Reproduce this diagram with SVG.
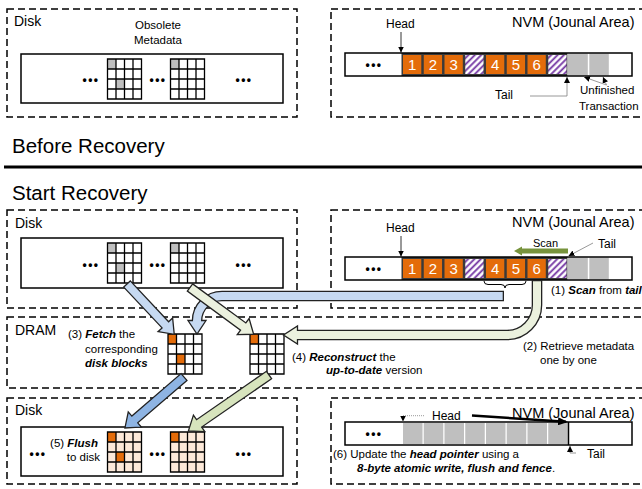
<svg xmlns="http://www.w3.org/2000/svg" width="642" height="489" viewBox="0 0 642 489">
<style>
text{font-family:"Liberation Sans",Arial,sans-serif;fill:#000}
.box{fill:none;stroke:#000;stroke-width:1.5;stroke-dasharray:7 4}
.inner{fill:#fff;stroke:#000;stroke-width:1.5}
.bar{fill:none;stroke:#000;stroke-width:1.5}
.lbl{font-size:14px}
.nvm{font-size:14.5px}
.sm{font-size:11.5px}
.hd{font-size:20.5px}
.bi{font-weight:bold;font-style:italic}
.dots{font-size:12px;font-weight:bold;letter-spacing:1.5px;text-anchor:middle}
.num{font-size:15px;fill:#fff;text-anchor:middle}
.or{fill:#E46C0A}
.gr{fill:#BFBFBF}
.pe{fill:#FDE9D9}
.ht{fill:url(#hatch)}
.dk{fill:#3A3A3A}
.ptr{fill:none;stroke:#000;stroke-width:0.8}
.ptrg{fill:none;stroke:#7F7F7F;stroke-width:0.8}
.edge{stroke:#222;stroke-width:1.3;stroke-linejoin:miter}
</style>
<defs>
<pattern id="hatch" patternUnits="userSpaceOnUse" width="4.5" height="4.5" patternTransform="rotate(45)">
<rect width="4.5" height="4.5" fill="#fff"/>
<line x1="1.2" y1="0" x2="1.2" y2="4.5" stroke="#7030A0" stroke-width="1.8"/>
</pattern>
<path id="gl" d="M0,0h34v40h-34z M8.5,0v40 M17,0v40 M25.5,0v40 M0,10h34 M0,20h34 M0,30h34" fill="none" stroke="#000" stroke-width="1.3"/>
<marker id="ah" markerUnits="userSpaceOnUse" markerWidth="6" markerHeight="6" viewBox="0 0 10 10" refX="10" refY="5" orient="auto">
<path d="M0,0 L10,5 L0,10 Z" fill="#000"/>
</marker>
<marker id="ahb" markerUnits="userSpaceOnUse" markerWidth="10" markerHeight="8" viewBox="0 0 10 8" refX="8" refY="4" orient="auto">
<path d="M0,0 L10,4 L0,8 Z" fill="#000"/>
</marker>
</defs>

<!-- ===== Before Recovery ===== -->
<g id="disk-before">
<rect class="box" x="7" y="9" width="290" height="108"/>
<text class="lbl" x="14" y="26">Disk</text>
<text class="sm" x="158" y="29" text-anchor="middle">Obsolete</text>
<text class="sm" x="158" y="44" text-anchor="middle">Metadata</text>
<rect class="inner" x="21" y="54" width="262" height="49"/>
<rect x="107.5" y="59" width="34" height="40" fill="#fff"/>
<rect class="gr" x="107.5" y="59" width="8.5" height="10"/>
<rect class="gr" x="116" y="79" width="8.5" height="10"/>
<use href="#gl" x="107.5" y="59"/>
<rect x="170.5" y="59" width="34" height="40" fill="#fff"/>
<rect class="gr" x="170.5" y="59" width="8.5" height="10"/>
<use href="#gl" x="170.5" y="59"/>
<text class="dots" x="91" y="84">•••</text>
<text class="dots" x="158" y="84">•••</text>
<text class="dots" x="244" y="84">•••</text>
</g>

<g id="nvm-before">
<rect class="box" x="331" y="9" width="315" height="108"/>
<text class="nvm" x="512" y="27">NVM (Jounal Area)</text>
<text x="386" y="28" font-size="12">Head</text>
<rect x="345" y="53" width="287" height="23" fill="#fff"/>
<rect class="dk" x="401.5" y="53" width="166" height="23"/>
<rect class="or" x="403" y="55" width="18.3" height="19"/>
<rect class="or" x="423.75" y="55" width="18.3" height="19"/>
<rect class="or" x="444.5" y="55" width="18.3" height="19"/>
<rect class="ht" x="465.25" y="55" width="18.3" height="19"/>
<rect class="or" x="486" y="55" width="18.3" height="19"/>
<rect class="or" x="506.75" y="55" width="18.3" height="19"/>
<rect class="or" x="527.5" y="55" width="18.3" height="19"/>
<rect class="ht" x="548.25" y="55" width="18.3" height="19"/>
<text class="num" x="412.2" y="69.5">1</text>
<text class="num" x="432.9" y="69.5">2</text>
<text class="num" x="453.7" y="69.5">3</text>
<text class="num" x="495.2" y="69.5">4</text>
<text class="num" x="515.9" y="69.5">5</text>
<text class="num" x="536.7" y="69.5">6</text>
<rect class="gr" x="567.5" y="53.5" width="20.3" height="22"/>
<rect class="gr" x="589.3" y="53.5" width="19.5" height="22"/>
<rect class="bar" x="345" y="53" width="287" height="23"/>
<text class="dots" x="374" y="68.5">•••</text>
<text x="495" y="99" font-size="12">Tail</text>
<text class="sm" x="580" y="94">Unfinished</text>
<text class="sm" x="579" y="110">Transaction</text>
</g>

<!-- ===== Headings ===== -->
<g id="headings">
<text class="hd" x="12" y="153">Before Recovery</text>
<line x1="4" y1="167" x2="642" y2="167" stroke="#000" stroke-width="3"/>
<text class="hd" x="12" y="200">Start Recovery</text>
</g>

<!-- ===== Start Recovery ===== -->
<g id="disk-recovery">
<rect class="box" x="7" y="210" width="290" height="98"/>
<text class="lbl" x="15" y="228">Disk</text>
<rect class="inner" x="21" y="238" width="262" height="50"/>
<rect x="107.5" y="243" width="34" height="40" fill="#fff"/>
<rect class="gr" x="107.5" y="243" width="8.5" height="10"/>
<rect class="gr" x="116" y="263" width="8.5" height="10"/>
<use href="#gl" x="107.5" y="243"/>
<rect x="170.5" y="243" width="34" height="40" fill="#fff"/>
<rect class="gr" x="170.5" y="243" width="8.5" height="10"/>
<use href="#gl" x="170.5" y="243"/>
<text class="dots" x="91" y="269">•••</text>
<text class="dots" x="158" y="269">•••</text>
<text class="dots" x="244" y="269">•••</text>
</g>

<g id="nvm-recovery">
<rect class="box" x="331" y="210" width="315" height="98"/>
<text class="nvm" x="512" y="227">NVM (Jounal Area)</text>
<text x="386" y="232" font-size="12">Head</text>
<rect x="345" y="257" width="287" height="23" fill="#fff"/>
<rect class="dk" x="401.5" y="257" width="166" height="23"/>
<rect class="or" x="403" y="259" width="18.3" height="19"/>
<rect class="or" x="423.75" y="259" width="18.3" height="19"/>
<rect class="or" x="444.5" y="259" width="18.3" height="19"/>
<rect class="ht" x="465.25" y="259" width="18.3" height="19"/>
<rect class="or" x="486" y="259" width="18.3" height="19"/>
<rect class="or" x="506.75" y="259" width="18.3" height="19"/>
<rect class="or" x="527.5" y="259" width="18.3" height="19"/>
<rect class="ht" x="548.25" y="259" width="18.3" height="19"/>
<text class="num" x="412.2" y="273.5">1</text>
<text class="num" x="432.9" y="273.5">2</text>
<text class="num" x="453.7" y="273.5">3</text>
<text class="num" x="495.2" y="273.5">4</text>
<text class="num" x="515.9" y="273.5">5</text>
<text class="num" x="536.7" y="273.5">6</text>
<rect class="gr" x="567.5" y="257.5" width="20.3" height="22"/>
<rect class="gr" x="589.3" y="257.5" width="19.5" height="22"/>
<rect class="bar" x="345" y="257" width="287" height="23"/>
<text class="dots" x="374" y="272.5">•••</text>
<text x="533" y="247" font-size="11">Scan</text>
<path d="M568,248.5 H522 V246.5 L514,251 L522,255.5 V253.5 H568 Z" fill="#77933C"/>
<text x="598" y="248" font-size="12">Tail</text>
<path d="M484,281 q0,3.5 4,3.5 h13 q4,0 4,3.5 q0,-3.5 4,-3.5 h13 q4,0 4,-3.5" fill="none" stroke="#000" stroke-width="1"/>
<text class="sm" x="551" y="294">(1) <tspan class="bi">Scan</tspan> from <tspan class="bi">tail</tspan></text>
</g>

<g id="dram">
<rect class="box" x="7" y="317" width="640" height="71"/>
<text class="lbl" x="15" y="335">DRAM</text>
<text class="sm" x="68" y="338">(3) <tspan class="bi">Fetch</tspan> the</text>
<text class="sm" x="85" y="353">corresponding</text>
<text class="sm bi" x="85" y="367">disk blocks</text>
<rect x="168" y="334" width="34" height="40" fill="#fff"/>
<rect class="or" x="168" y="334" width="8.5" height="10"/>
<rect class="or" x="176.5" y="354" width="8.5" height="10"/>
<use href="#gl" x="168" y="334"/>
<rect x="250" y="334" width="34" height="40" fill="#fff"/>
<rect class="or" x="250" y="334" width="8.5" height="10"/>
<use href="#gl" x="250" y="334"/>
<text class="sm" x="292" y="361">(4) <tspan class="bi">Reconstruct</tspan> the</text>
<text class="sm" x="326" y="374"><tspan class="bi">up-to-date</tspan> version</text>
<text class="sm" x="523" y="350">(2) Retrieve metadata</text>
<text class="sm" x="540" y="364">one by one</text>
</g>

<g id="disk-after">
<rect class="box" x="7" y="398" width="290" height="86"/>
<text class="lbl" x="15" y="415">Disk</text>
<rect class="inner" x="21" y="427" width="262" height="49"/>
<text class="sm" x="98" y="447" text-anchor="end">(5) <tspan class="bi">Flush</tspan></text>
<text class="sm" x="100" y="461" text-anchor="end">to disk</text>
<rect class="pe" x="107.5" y="432" width="34" height="40"/>
<rect class="or" x="107.5" y="432" width="8.5" height="10"/>
<rect class="or" x="116" y="452" width="8.5" height="10"/>
<use href="#gl" x="107.5" y="432"/>
<rect class="pe" x="170.5" y="432" width="34" height="40"/>
<rect class="or" x="170.5" y="432" width="8.5" height="10"/>
<use href="#gl" x="170.5" y="432"/>
<text class="dots" x="38" y="457.5">•••</text>
<text class="dots" x="158" y="457.5">•••</text>
<text class="dots" x="244" y="457.5">•••</text>
</g>

<g id="nvm-after">
<rect class="box" x="331" y="398" width="315" height="86"/>
<text class="nvm" x="512" y="418">NVM (Jounal Area)</text>
<text x="432" y="420" font-size="12">Head</text>
<rect x="345" y="422" width="287" height="23" fill="#fff"/>
<rect class="gr" x="403" y="423" width="19.5" height="21"/>
<rect class="gr" x="423.75" y="423" width="19.5" height="21"/>
<rect class="gr" x="444.5" y="423" width="19.5" height="21"/>
<rect class="gr" x="465.25" y="423" width="19.5" height="21"/>
<rect class="gr" x="486" y="423" width="19.5" height="21"/>
<rect class="gr" x="506.75" y="423" width="19.5" height="21"/>
<rect class="gr" x="527.5" y="423" width="19.5" height="21"/>
<rect class="gr" x="548.25" y="423" width="19.5" height="21"/>
<line x1="568.5" y1="422" x2="568.5" y2="445" stroke="#000" stroke-width="1.5"/>
<rect class="bar" x="345" y="422" width="287" height="23"/>
<text class="dots" x="374" y="437.5">•••</text>
<text x="587" y="458" font-size="12">Tail</text>
<text class="sm" x="333" y="458">(6) Update the <tspan class="bi">head pointer</tspan> using a</text>
<text class="sm" x="357" y="472"><tspan class="bi">8-byte atomic write, flush and fence</tspan>.</text>
</g>

<!-- ===== Connectors ===== -->
<g id="connectors">
<!-- pointers -->
<line class="ptr" x1="401" y1="32" x2="401" y2="52.5" marker-end="url(#ah)"/>
<polyline class="ptrg" points="530,96 567,96 567,77" marker-end="url(#ah)"/>
<line class="ptrg" x1="606.5" y1="85" x2="584" y2="77" marker-end="url(#ah)"/>
<line class="ptrg" x1="606.5" y1="85" x2="603" y2="77" marker-end="url(#ah)"/>
<line class="ptr" x1="401" y1="236" x2="401" y2="256.5" marker-end="url(#ah)"/>
<line class="ptrg" x1="593" y1="243" x2="568.5" y2="256" marker-end="url(#ah)"/>
<polyline points="424,415.7 403,415.7 403,421.5" fill="none" stroke="#7F7F7F" stroke-width="0.8" stroke-dasharray="1 1" marker-end="url(#ah)"/>
<line x1="472" y1="415.5" x2="566" y2="421.8" stroke="#000" stroke-width="2.5" marker-end="url(#ahb)"/>
<polyline class="ptrg" points="576,453 570,453 570,446" marker-end="url(#ah)"/>

<!-- blue curved: scanned metadata to DRAM grid 1 -->
<path d="M504,296 H222 A25,25 0 0 0 197,321 V322" fill="none" stroke="#222" stroke-width="10.6"/>
<path d="M188,320.5 H206 L197,334 Z" fill="#C6D9F1" class="edge"/>
<path d="M502.7,296 H222 A25,25 0 0 0 197,321 V323" fill="none" stroke="#C6D9F1" stroke-width="8"/>

<!-- green curved: retrieve to DRAM grid 2 -->
<path d="M537,280 V305 A30,30 0 0 1 507,335 H297" fill="none" stroke="#222" stroke-width="10.6"/>
<path d="M297.5,326 V344 L283.5,335 Z" fill="#EBF1DE" class="edge"/>
<path d="M537,281.3 V305 A30,30 0 0 1 507,335 H295.5" fill="none" stroke="#EBF1DE" stroke-width="8"/>

<!-- fetch (blue) -->
<path transform="translate(127,284) rotate(46.8)" d="M0,-4.5 H56 V-10 L69,0 L56,10 V4.5 H0 Z" fill="#C6D9F1" class="edge"/>
<!-- reconstruct (green) -->
<path transform="translate(190,287.5) rotate(36.3)" d="M0,-4.5 H66 V-10 L79,0 L66,10 V4.5 H0 Z" fill="#EBF1DE" class="edge"/>
<!-- flush (blue) -->
<path transform="translate(184,377) rotate(139.2)" d="M0,-4.5 H65 V-10 L78,0 L65,10 V4.5 H0 Z" fill="#8EB4E3" class="edge"/>
<!-- flush (green) -->
<path transform="translate(269,375) rotate(145.3)" d="M0,-4.5 H85 V-10 L98,0 L85,10 V4.5 H0 Z" fill="#D7E4BD" class="edge"/>
</g>
</svg>
